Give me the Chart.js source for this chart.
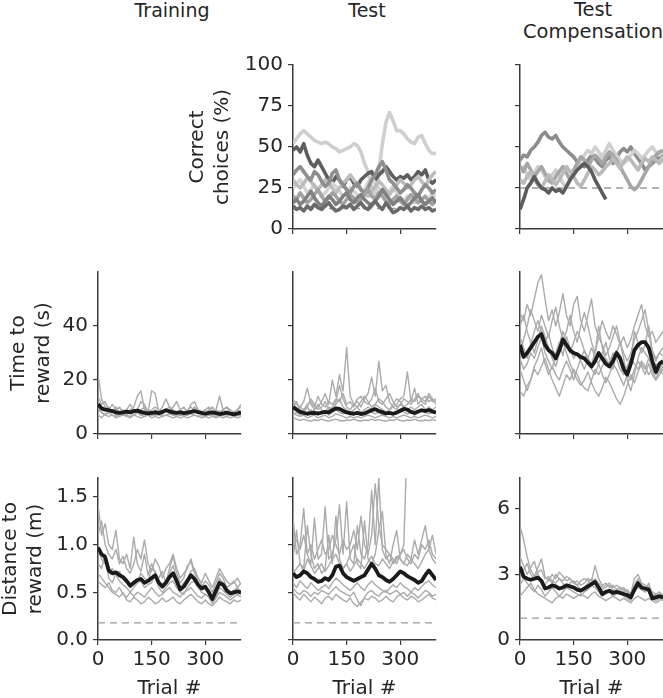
<!DOCTYPE html>
<html>
<head>
<meta charset="utf-8">
<script src="https://cdn.jsdelivr.net/npm/chart.js@4.4.1/dist/chart.umd.min.js"></script>
<style>
  html,body{margin:0;padding:0;background:#fff;}
  #wrap{position:relative;width:663px;height:698px;overflow:hidden;background:#fff;}
  .ct{position:absolute;font-family:'DejaVu Sans',sans-serif;font-size:19px;line-height:22px;color:#262626;text-align:center;white-space:nowrap;transform:translateX(-50%);}
</style>
</head>
<body>
<div id="wrap">
  <div class="ct" style="left:172px;top:-1px;">Training</div>
  <div class="ct" style="left:367px;top:-1px;">Test</div>
  <div class="ct" style="left:593px;top:-1px;font-size:19.4px;">Test<br>Compensation</div>
</div>
<script>
// ---------- x positions (trial #) ----------
const trials = [0,10,20,30,40,50,60,70,80,90,100,110,120,130,140,150,160,170,180,190,200,210,220,230,240,250,260,270,280,290,300,310,320,330,340,350,360,370,380,390,400];
const trialTicks = [0,150,300];
const trialMax = 400;

// ---------- tick values ----------
const correctTicks = [0,25,50,75,100];
const timeTicks = [0,20,40];
const distTicks = [0,0.5,1.0,1.5];
const compDistTicks = [0,3,6];
const correctMax = 100, timeMax = 60, distMax = 1.7, compDistMax = 7.4;

// ---------- reference (dashed) levels ----------
const testChance = 12.5;
const compChance = 25;
const trainDistFloor = 0.18;
const testDistFloor = 0.18;
const compDistFloor = 1.0;

// ---------- Correct choices (%) : Test ----------
const testCorrect1 = [52,55,58,60,58,56,54,53,52,53,52,50,49,47,48,49,50,52,51,47,40,35,25,20,35,52,65,71,66,60,60,58,55,53,52,56,57,52,48,46,46];
const testCorrect2 = [48,50,47,52,45,40,38,42,38,34,30,28,32,30,26,30,32,28,26,30,32,34,35,30,33,35,38,35,32,30,32,31,33,30,32,35,33,36,30,28,30];
const testCorrect3 = [14,12,13,11,14,12,15,13,12,14,16,13,11,12,14,13,15,12,14,16,13,12,15,17,14,12,16,13,10,11,13,12,14,11,13,12,14,12,13,11,12];
const testCorrect4 = [33,36,38,35,32,30,35,33,29,26,28,34,36,30,27,24,22,26,28,24,22,25,30,33,38,41,36,30,28,25,22,24,27,25,22,20,24,27,25,22,24];
const testCorrect5 = [30,27,25,28,31,29,26,24,27,30,28,25,22,25,28,30,33,30,27,24,22,20,23,26,29,27,24,21,24,27,30,28,25,27,30,32,29,26,30,33,35];
const testCorrect6 = [20,18,22,19,16,18,21,24,20,17,19,22,20,17,15,18,21,19,16,18,21,24,20,18,22,20,17,15,18,20,17,15,18,21,19,16,18,20,17,15,18];
const testCorrect7 = [25,28,30,26,22,24,27,23,20,22,25,28,26,23,20,22,25,23,21,19,24,28,31,28,25,22,20,23,26,22,19,17,20,18,16,19,17,15,18,22,20];
const testCorrect8 = [16,18,15,17,20,23,19,16,14,17,20,18,15,17,20,22,18,16,19,21,18,16,14,17,20,24,21,18,15,17,19,16,14,16,19,21,17,15,17,19,16];

// ---------- Correct choices (%) : Test Compensation ----------
const compCorrect1 = [42,45,44,48,50,53,57,59,56,55,57,53,50,48,46,44,41,39,38,42,45,43,40,38,42,44,40,43,47,49,47,50,46,43,40,36,38,40,42,44,46];
const compCorrect2 = [12,18,25,28,32,28,25,24,22,25,23,24,22,26,30,33,36,38,40,38,35,30,26,22,18,null,null,null,null,null,null,null,null,null,null,null,null,null,null,null,null];
const compCorrect3 = [38,35,40,36,32,35,38,34,30,28,32,35,38,34,30,36,40,44,42,38,42,45,43,40,44,47,45,42,38,34,30,26,24,26,30,34,38,42,45,47,48];
const compCorrect4 = [35,38,33,30,34,38,36,32,29,33,36,32,28,25,30,35,38,42,45,48,46,50,47,44,48,52,48,45,42,40,42,45,48,46,43,45,48,50,47,45,47];
const compCorrect5 = [30,28,32,35,30,27,25,29,33,30,27,30,34,38,35,32,28,26,30,34,38,36,33,35,38,40,43,40,37,41,44,42,39,36,40,43,41,44,42,40,43];

// ---------- Time to reward (s) : Training ----------
const trainTimeMean = [11,9.5,9,8.8,8.5,8,7.8,8,8.3,8,8.5,8.7,8.2,7.8,7.6,7.8,8,7.7,8.2,8.8,8.4,8,7.8,8,7.7,7.9,8.2,8.5,8.1,7.8,7.5,7.8,8,7.7,7.4,7.6,7.9,7.6,7.3,7.6,8];
const trainTime1 = [22,13,10,9,11,9,8,9,8,9,10,14,16,9,8,16,15,8,7,9,8,10,12,9,8,7,8,9,8,7,9,8,7,9,14,9,8,7,8,9,11];
const trainTime2 = [14,11,12,9,8,10,8,7,9,8,7,9,12,11,8,7,9,8,10,13,10,8,7,9,10,8,11,12,9,8,7,9,10,8,7,9,10,8,7,9,8];
const trainTime3 = [9,8,7,8,7,6.5,7,8,7,6.5,7,8,7,6.5,7,6.8,7.2,7,6.5,7,7.5,7,6.5,7,6.8,7,7.5,7,6.5,6.8,6.5,7,6.8,6.5,7,6.8,6.5,7,6.5,6.8,7];
const trainTime4 = [7,6,7.5,8,9,7,7.5,8,7,8.5,9,8,7,8,9,8,7,7.5,8,9,8,7,7.5,8.5,8,9,10,8.5,7.5,8,7,7.5,8,7,8.5,8,7,7.5,8,7,7.5];
const trainTime5 = [12,10,9,10,8,9,10,8,9,11,9,8,9,10,8,9,10,9,8,9,10,9,8,9,8,9,8,10,9,8,9,10,8,9,8,9,10,9,8,9,10];
const trainTime6 = [10,8,7,6.5,7,6,6.5,7,6.5,6,7,6.5,6,6.5,7,6,6.5,6,6.5,7,6.5,6,6.5,6,6.5,6,6.5,7,6.5,6,6.5,6,6.5,6,6.5,6,6.5,6,6.5,6,6.5];

// ---------- Time to reward (s) : Test ----------
const testTimeMean = [10,9,8.2,7.8,7.5,7.7,7.8,7.6,7.9,8.2,8,8.8,9.5,9.3,8.6,8,7.7,7.5,7.8,7.4,7.6,8.2,8.8,9.2,8.5,8.1,7.6,7.8,7.5,7.9,8.6,9.3,9,8.2,7.8,8.3,8.8,8.5,8.9,8.3,8];
const testTime1 = [12,9,10,12,17,11,9,10,12,15,11,20,14,22,16,32,14,11,12,10,13,15,21,14,27,16,18,12,10,11,13,14,23,12,17,11,13,14,12,13,11];
const testTime2 = [13,11,10,9,11,12,10,14,11,10,12,11,13,12,15,11,12,10,13,14,12,11,13,17,12,11,13,15,12,10,11,13,12,11,13,15,12,11,14,12,13];
const testTime3 = [8,7,6.5,7,6,6.5,7,6,6.5,7,6,6.5,7.5,7,6.5,6,6.5,6,6.5,6,6.5,7,6.5,6,6.5,7,6.5,6,6.5,6,6.5,7,6.5,6,6.5,6,6.5,7,6.5,6,6.5];
const testTime4 = [6,5.5,5,5.5,5,4.8,5.2,5,5.5,5,4.8,5.2,5.5,5,4.8,5.2,5,5.5,5,4.8,5.2,5,5.5,5,5.3,5,4.8,5.2,5,5.5,5,4.8,5.2,5,5.5,5,4.8,5.2,5,5.3,5];
const testTime5 = [9,10,8,9,10,8,9,11,9,8,10,9,11,13,10,9,8,9,10,8,9,10,9,11,10,9,8,9,10,9,11,10,9,10,9,10,11,9,10,9,10];
const testTime6 = [7,8,7,8,7.5,9,8,7,8,8.5,7,8,9,8,7.5,8,7,8,7.5,7,8,9,8,7.5,8,7,8,7.5,7,8,9,8,7.5,8,7,8,9,8,7.5,8,7.5];
const testTime7 = [10,12,9,8,10,13,11,9,10,12,9,10,12,18,13,10,9,11,10,12,14,12,10,11,13,12,10,9,11,13,12,10,11,13,12,14,13,12,15,13,12];

// ---------- Time to reward (s) : Test Compensation ----------
const compTimeMean = [33,28.5,30,32,34,36,37,33,31,30,28,31,35,33,31,30,29.5,28.5,28,26.5,25,27,30,28,26,25,27,30,28,24,22,26,31,33,34,34,32,27,23,26,27];
const compTime1 = [45,42,48,44,50,56,59,50,42,46,40,45,52,44,40,48,51,42,38,44,50,40,36,42,38,35,40,37,33,36,32,35,40,44,48,40,36,38,34,36,38];
const compTime2 = [16,14,18,20,24,22,25,28,24,20,17,14,18,22,20,24,22,19,17,16,20,24,22,25,28,26,30,28,24,22,25,28,26,24,27,25,22,24,26,23,25];
const compTime3 = [40,44,38,34,30,35,40,36,32,28,25,30,34,30,26,23,20,18,20,23,19,16,14,17,21,19,16,13,11,14,18,22,19,23,26,24,28,25,22,24,26];
const compTime4 = [30,35,40,46,42,38,44,40,36,42,47,40,35,38,44,38,34,40,45,40,34,30,36,33,29,32,36,40,34,30,27,30,35,38,42,46,38,30,27,30,32];
const compTime5 = [28,24,26,30,28,32,36,30,27,24,30,34,29,36,32,28,30,27,24,28,32,28,26,30,34,28,24,30,34,28,20,16,22,28,32,30,28,24,20,24,22];
const compTime6 = [36,32,28,33,38,42,38,34,37,32,28,33,38,34,30,34,38,35,31,28,26,30,40,32,27,25,28,31,29,26,24,27,38,34,30,33,40,31,28,30,29];
const compTime7 = [24,20,16,20,25,28,32,26,22,25,22,20,24,27,24,20,24,28,31,27,24,22,26,22,19,22,26,24,21,18,22,20,24,27,25,22,26,22,20,22,24];

// ---------- Distance to reward (m) : Training ----------
const trainDistMean = [0.97,0.9,0.87,0.73,0.7,0.71,0.68,0.66,0.62,0.57,0.6,0.63,0.64,0.6,0.62,0.65,0.68,0.6,0.56,0.6,0.66,0.7,0.62,0.53,0.56,0.62,0.68,0.64,0.58,0.54,0.56,0.5,0.43,0.52,0.6,0.58,0.52,0.49,0.5,0.51,0.5];
const trainDist1 = [1.42,1.1,1.22,1.0,0.95,1.15,0.85,0.8,0.9,0.75,1.08,0.8,0.72,0.9,0.68,0.8,0.7,0.65,0.72,0.6,0.75,0.88,0.7,0.6,0.65,0.78,0.82,0.7,0.6,0.55,0.62,0.58,0.5,0.6,0.7,0.65,0.55,0.58,0.62,0.55,0.6];
const trainDist2 = [1.1,1.25,1.0,0.9,0.85,0.95,0.8,0.88,0.75,0.7,0.8,0.95,0.85,1.05,0.8,0.72,0.85,0.78,0.65,0.75,0.8,0.9,0.75,0.65,0.7,0.75,0.85,0.72,0.65,0.6,0.7,0.62,0.55,0.65,0.75,0.68,0.62,0.58,0.6,0.65,0.58];
const trainDist3 = [0.7,0.65,0.6,0.55,0.5,0.48,0.45,0.5,0.42,0.4,0.45,0.42,0.38,0.4,0.45,0.42,0.38,0.4,0.44,0.4,0.42,0.45,0.4,0.38,0.42,0.45,0.48,0.44,0.4,0.38,0.42,0.38,0.36,0.4,0.45,0.42,0.4,0.38,0.42,0.4,0.42];
const trainDist4 = [0.95,0.85,0.8,0.7,0.75,0.68,0.62,0.58,0.55,0.5,0.55,0.6,0.62,0.55,0.58,0.6,0.7,0.55,0.5,0.55,0.6,0.62,0.55,0.5,0.48,0.55,0.6,0.62,0.55,0.5,0.48,0.45,0.4,0.45,0.55,0.52,0.48,0.45,0.48,0.5,0.48];
const trainDist5 = [0.8,0.75,0.9,0.65,0.6,0.7,0.72,0.65,0.6,0.55,0.58,0.62,0.7,0.65,0.62,0.75,0.72,0.62,0.58,0.62,0.7,0.78,0.65,0.55,0.6,0.65,0.72,0.75,0.65,0.58,0.55,0.52,0.45,0.55,0.65,0.6,0.55,0.5,0.52,0.55,0.5];
const trainDist6 = [0.62,0.58,0.55,0.6,0.52,0.5,0.55,0.48,0.45,0.5,0.46,0.5,0.48,0.45,0.5,0.55,0.5,0.46,0.48,0.52,0.55,0.5,0.48,0.45,0.5,0.52,0.55,0.5,0.46,0.44,0.48,0.45,0.38,0.44,0.5,0.48,0.45,0.42,0.45,0.48,0.45];

// ---------- Distance to reward (m) : Test ----------
const testDistMean = [0.7,0.66,0.68,0.72,0.7,0.66,0.64,0.61,0.62,0.65,0.63,0.68,0.77,0.78,0.7,0.66,0.64,0.62,0.64,0.66,0.68,0.74,0.8,0.75,0.68,0.66,0.63,0.61,0.64,0.68,0.72,0.7,0.67,0.65,0.63,0.6,0.62,0.68,0.73,0.68,0.63];
const testDist1 = [1.28,0.9,1.0,1.38,0.9,0.8,1.28,0.85,0.9,1.4,0.85,0.9,1.05,1.42,0.9,1.45,0.85,0.8,1.2,0.9,0.85,1.0,1.57,1.0,1.7,0.95,0.85,0.9,0.8,0.85,0.9,0.95,0.85,0.8,0.9,0.85,1.0,0.95,1.05,0.9,0.85];
const testDist2 = [1.0,1.05,0.95,1.1,0.9,1.0,0.85,0.95,1.05,0.9,0.95,1.1,1.0,0.9,1.05,0.95,1.0,1.15,0.95,1.3,1.0,0.9,1.1,1.64,1.2,1.0,0.95,0.9,0.85,0.8,0.9,1.0,2.2,null,null,null,null,null,null,null,null];
const testDist3 = [0.7,0.75,0.8,0.72,0.85,0.78,0.7,0.75,0.8,0.72,0.78,0.85,0.9,0.8,0.75,0.8,0.72,0.78,0.85,0.8,0.75,0.82,0.88,0.8,0.78,0.85,0.8,0.75,0.82,0.88,0.85,0.8,0.78,0.85,0.8,0.75,0.82,0.9,0.95,0.85,0.8];
const testDist4 = [0.5,0.45,0.42,0.48,0.44,0.4,0.45,0.42,0.38,0.44,0.46,0.42,0.48,0.45,0.42,0.4,0.44,0.38,0.35,0.4,0.44,0.42,0.46,0.44,0.4,0.42,0.46,0.42,0.4,0.45,0.48,0.44,0.42,0.46,0.44,0.4,0.42,0.45,0.48,0.44,0.42];
const testDist5 = [0.6,0.55,0.62,0.58,0.54,0.6,0.56,0.52,0.55,0.58,0.54,0.6,0.65,0.62,0.58,0.55,0.52,0.56,0.6,0.55,0.52,0.58,0.62,0.58,0.55,0.52,0.5,0.54,0.58,0.55,0.6,0.56,0.54,0.5,0.55,0.52,0.56,0.6,0.62,0.58,0.55];
const testDist6 = [0.85,1.15,0.8,0.75,1.2,0.9,0.75,0.8,0.7,0.75,1.1,0.8,1.3,0.85,0.75,0.8,0.9,1.0,0.8,0.75,1.25,0.85,0.8,0.9,1.15,1.35,0.9,0.8,1.0,1.15,0.85,0.8,0.9,0.85,1.05,0.9,1.05,1.2,0.95,1.1,0.9];
const testDist7 = [0.55,0.5,0.48,0.52,0.5,0.46,0.5,0.48,0.52,0.5,0.48,0.52,0.56,0.52,0.5,0.48,0.46,0.5,0.42,0.36,0.45,0.5,0.52,0.48,0.46,0.5,0.52,0.48,0.5,0.52,0.48,0.5,0.46,0.5,0.48,0.44,0.48,0.52,0.5,0.46,0.48];

// ---------- Distance to reward (m) : Test Compensation ----------
const compDistMean = [3.35,2.9,2.8,2.75,2.8,2.85,2.7,2.35,2.4,2.5,2.45,2.35,2.4,2.5,2.45,2.4,2.3,2.25,2.35,2.45,2.55,2.65,2.4,2.1,2.2,2.25,2.15,2.2,2.15,2.1,2.05,1.95,2.3,2.6,2.4,2.35,2.3,1.9,1.95,2.0,1.95];
const compDist1 = [5.2,4.6,3.8,3.2,2.9,3.3,3.7,2.9,2.7,3.0,2.8,3.1,2.9,2.7,2.8,2.6,2.7,2.5,2.6,2.8,2.7,3.4,2.8,2.5,2.6,2.4,2.5,2.3,2.4,2.2,2.3,2.1,2.8,3.0,2.6,2.5,2.4,2.2,2.1,2.2,2.0];
const compDist2 = [2.0,2.2,2.4,2.6,2.3,2.1,2.0,1.9,1.8,1.7,1.9,2.0,1.9,2.1,2.0,1.9,2.0,2.1,2.0,1.9,2.1,2.2,2.0,1.9,1.8,1.9,2.0,1.9,1.8,1.9,1.8,1.7,1.9,2.0,1.9,1.8,1.9,1.8,1.7,1.8,1.9];
const compDist3 = [3.8,3.4,3.0,3.3,3.6,3.0,2.7,2.5,2.8,2.6,3.0,2.8,2.6,2.4,2.6,2.7,2.5,2.3,2.4,2.6,2.8,2.6,2.4,2.3,2.4,2.5,2.3,2.2,2.3,2.4,2.2,2.0,2.2,2.4,2.3,2.2,2.6,2.1,2.0,2.1,2.0];
const compDist4 = [2.5,2.8,2.6,2.4,2.2,2.5,2.3,2.0,2.2,2.4,2.2,2.0,2.2,2.4,2.3,2.2,2.1,2.0,2.2,2.3,2.5,2.4,2.2,2.0,2.1,2.2,2.0,2.1,2.2,2.0,1.9,1.8,2.2,2.5,2.3,2.2,2.3,1.9,1.8,1.9,1.8];
const compDist5 = [3.0,3.2,3.5,3.0,2.8,3.1,3.2,2.8,2.9,2.7,2.6,2.8,2.7,2.9,2.8,2.6,2.5,2.7,2.8,2.7,2.6,2.8,2.6,2.4,2.5,2.6,2.4,2.5,2.4,2.3,2.2,2.1,2.5,2.8,2.6,2.5,2.4,2.0,2.1,2.0,2.1];

// ---------- style ----------
const FONT = "'DejaVu Sans', sans-serif";
const TXT = '#262626';
const AX = '#3a3a3a';
const GRAY = '#ababab';
const MEAN = '#1a1a1a';
Chart.defaults.font.family = FONT;

function toXY(arr){ return trials.map((t,i)=>({x:t, y:arr[i]})); }

function makePanel(o){
  const W = o.yW + o.w + o.padR, H = o.padT + o.h + o.xH;
  const c = document.createElement('canvas');
  c.width = W; c.height = H;
  c.style.cssText = 'position:absolute;left:'+(o.x - o.yW)+'px;top:'+(o.y - o.padT)+'px;width:'+W+'px;height:'+H+'px;';
  document.getElementById('wrap').appendChild(c);
  const datasets = [];
  if (o.mean) datasets.push({data: toXY(o.mean), borderColor: MEAN, borderWidth: 3.8, order: 0});
  o.lines.forEach(l => datasets.push({data: toXY(l.v), borderColor: l.c || GRAY, borderWidth: l.w || 1.4, order: 1}));
  if (o.chance != null) datasets.push({data: [{x:0,y:o.chance},{x:trialMax,y:o.chance}], borderColor:'#9a9a9a', borderWidth:1.3, borderDash:[7,5], order:2});
  new Chart(c, {
    type: 'line',
    data: {datasets},
    options: {
      responsive: false, animation: false, devicePixelRatio: 1,
      layout: {padding: {top: o.padT, right: o.padR, left: 0, bottom: 0}},
      plugins: {legend: {display: false}, tooltip: {enabled: false}},
      elements: {point: {radius: 0, hoverRadius: 0}, line: {tension: 0, borderCapStyle: 'butt', borderJoinStyle: 'round'}},
      scales: {
        x: {
          type: 'linear', min: 0, max: trialMax,
          afterBuildTicks: s => { s.ticks = trialTicks.map(v => ({value: v})); },
          afterFit: s => { s.height = o.xH; },
          grid: {drawOnChartArea: false, drawTicks: true, tickLength: 5, color: AX, lineWidth: 1.2},
          border: {display: true, color: AX, width: 1.5},
          ticks: {autoSkip: false, maxRotation: 0, padding: 3, color: TXT, font: {family: FONT, size: 20},
                  callback: v => o.xLabels ? String(v) : ''},
          title: {display: !!o.xTitle, text: o.xTitle || '', color: TXT, font: {family: FONT, size: 20}, padding: {top: 0, bottom: 0}}
        },
        y: {
          type: 'linear', min: 0, max: o.ymax,
          afterBuildTicks: s => { s.ticks = o.yticks.map(v => ({value: v})); },
          afterFit: s => { s.width = o.yW; },
          grid: {drawOnChartArea: false, drawTicks: true, tickLength: 5, color: AX, lineWidth: 1.2},
          border: {display: true, color: AX, width: 1.5},
          ticks: {autoSkip: false, padding: 5, color: TXT, font: {family: FONT, size: 20},
                  callback: v => o.yLabels ? o.fmt(v) : ''},
          title: {display: !!o.yTitle, text: o.yTitle || '', color: TXT, font: {family: FONT, size: 20, lineHeight: 1.25}, padding: {top: 0, bottom: 0}}
        }
      }
    }
  });
}

const fmtInt = v => String(v);
const fmt1 = v => v.toFixed(1);
const TW = 3.6;

// ---- Row 1: correct choices ----
makePanel({x:293, y:65, w:143, h:164, yW:108, padT:20, padR:6, xH:20, ymax:correctMax, yticks:correctTicks, yLabels:true, fmt:fmtInt,
  yTitle:['Correct','choices (%)'], xLabels:false, chance:testChance,
  lines:[
    {v:testCorrect3, c:'#6a6a6a', w:TW},
    {v:testCorrect8, c:'#808080', w:TW},
    {v:testCorrect6, c:'#a2a2a2', w:TW},
    {v:testCorrect4, c:'#8e8e8e', w:TW},
    {v:testCorrect5, c:'#bdbdbd', w:TW},
    {v:testCorrect7, c:'#d4d4d4', w:TW},
    {v:testCorrect2, c:'#5e5e5e', w:TW},
    {v:testCorrect1, c:'#cfcfcf', w:TW}
  ]});
makePanel({x:520, y:65, w:143, h:164, yW:40, padT:20, padR:0, xH:20, ymax:correctMax, yticks:correctTicks, yLabels:false, fmt:fmtInt,
  xLabels:false, chance:compChance,
  lines:[
    {v:compCorrect2, c:'#5c5c5c', w:TW},
    {v:compCorrect5, c:'#bababa', w:TW},
    {v:compCorrect3, c:'#a6a6a6', w:TW},
    {v:compCorrect4, c:'#d0d0d0', w:TW},
    {v:compCorrect1, c:'#8c8c8c', w:TW}
  ]});

// ---- Row 2: time to reward ----
makePanel({x:98, y:272, w:143, h:162, yW:92, padT:20, padR:6, xH:20, ymax:timeMax, yticks:timeTicks, yLabels:true, fmt:fmtInt,
  yTitle:['Time to','reward (s)'], xLabels:false, mean:trainTimeMean,
  lines:[{v:trainTime1},{v:trainTime2},{v:trainTime3},{v:trainTime4},{v:trainTime5},{v:trainTime6}]});
makePanel({x:293, y:272, w:143, h:162, yW:40, padT:20, padR:6, xH:20, ymax:timeMax, yticks:timeTicks, yLabels:false, fmt:fmtInt,
  xLabels:false, mean:testTimeMean,
  lines:[{v:testTime1},{v:testTime2},{v:testTime3},{v:testTime4},{v:testTime5},{v:testTime6},{v:testTime7}]});
makePanel({x:520, y:272, w:143, h:162, yW:40, padT:20, padR:0, xH:20, ymax:timeMax, yticks:timeTicks, yLabels:false, fmt:fmtInt,
  xLabels:false, mean:compTimeMean,
  lines:[{v:compTime1},{v:compTime2},{v:compTime3},{v:compTime4},{v:compTime5},{v:compTime6},{v:compTime7}]});

// ---- Row 3: distance to reward ----
makePanel({x:98, y:478, w:143, h:162, yW:100, padT:20, padR:6, xH:61, ymax:distMax, yticks:distTicks, yLabels:true, fmt:fmt1,
  yTitle:['Distance to','reward (m)'], xLabels:true, xTitle:'Trial #', mean:trainDistMean, chance:trainDistFloor,
  lines:[{v:trainDist1},{v:trainDist2},{v:trainDist3},{v:trainDist4},{v:trainDist5},{v:trainDist6}]});
makePanel({x:293, y:478, w:143, h:162, yW:40, padT:20, padR:6, xH:61, ymax:distMax, yticks:distTicks, yLabels:false, fmt:fmt1,
  xLabels:true, xTitle:'Trial #', mean:testDistMean, chance:testDistFloor,
  lines:[{v:testDist1},{v:testDist2},{v:testDist3},{v:testDist4},{v:testDist5},{v:testDist6},{v:testDist7}]});
makePanel({x:520, y:478, w:143, h:162, yW:40, padT:20, padR:0, xH:61, ymax:compDistMax, yticks:compDistTicks, yLabels:true, fmt:fmtInt,
  xLabels:true, xTitle:'Trial #', mean:compDistMean, chance:compDistFloor,
  lines:[{v:compDist1},{v:compDist2},{v:compDist3},{v:compDist4},{v:compDist5}]});
</script>
</body>
</html>
